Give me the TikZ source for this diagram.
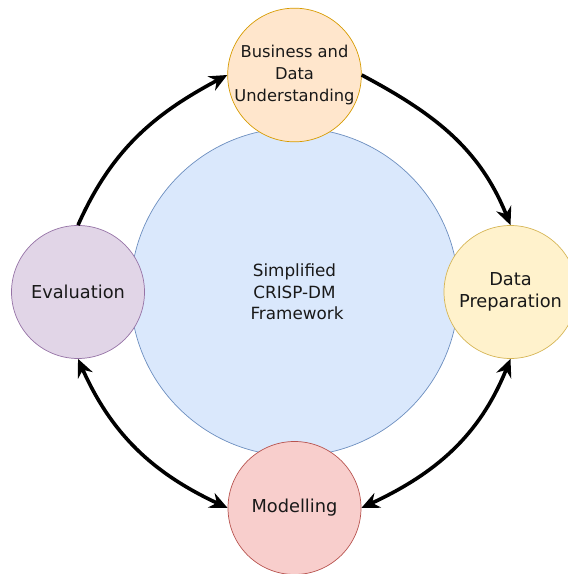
\documentclass[tikz,border=0pt]{standalone}
\usepackage{fontspec}
\setmainfont{DejaVu Sans}
\usetikzlibrary{arrows.meta}

\definecolor{coreFill}{HTML}{DAE8FC}
\definecolor{coreLine}{HTML}{6C8EBF}
\definecolor{bizFill}{HTML}{FFE6CC}
\definecolor{bizLine}{HTML}{D79B00}
\definecolor{prepFill}{HTML}{FFF2CC}
\definecolor{prepLine}{HTML}{D6B656}
\definecolor{evalFill}{HTML}{E1D5E7}
\definecolor{evalLine}{HTML}{9673A6}
\definecolor{modelFill}{HTML}{F8CECC}
\definecolor{modelLine}{HTML}{B85450}

\begin{document}
\begin{tikzpicture}[x=1pt, y=1pt, >={Stealth[length=18pt, width=16pt, inset=6pt]},
    phase/.style={circle, draw, line width=0.7pt, minimum size=133pt, inner sep=0pt,
        align=center, text=black!90, font=\fontsize{17.8}{21.5}\selectfont},
    flow/.style={line width=3.6pt, black}]
    \useasboundingbox (0,0) rectangle (568,574);
    % centre of the cycle
    \node[phase, fill=coreFill, draw=coreLine, minimum size=328pt,
        font=\fontsize{16.8}{21.7}\selectfont] (core) at (294.5,282)
        {Simplified\\CRISP-DM\\\hspace*{0.3em}Framework};
    % the four phases
    \node[phase, fill=bizFill, draw=bizLine, font=\fontsize{16.3}{21.7}\selectfont]
        (biz) at (294.5,499) {Business and\\Data\\Understanding};
    \node[phase, fill=prepFill, draw=prepLine] (prep) at (510.5,282) {Data\\Preparation};
    \node[phase, fill=evalFill, draw=evalLine] (eval) at (78,282) {Evaluation};
    \node[phase, fill=modelFill, draw=modelLine] (model) at (294.5,66) {Modelling};
    % arrows between phases
    \draw[flow, ->] (eval.north) to[out=66, in=208] (biz.west);
    \draw[flow, ->] (biz.east) to[out=-28, in=112] (prep.north);
    \draw[flow, <->] (eval.south) to[out=-66, in=155] (model.west);
    \draw[flow, <->] (prep.south) to[out=-112, in=25] (model.east);
\end{tikzpicture}
\end{document}
